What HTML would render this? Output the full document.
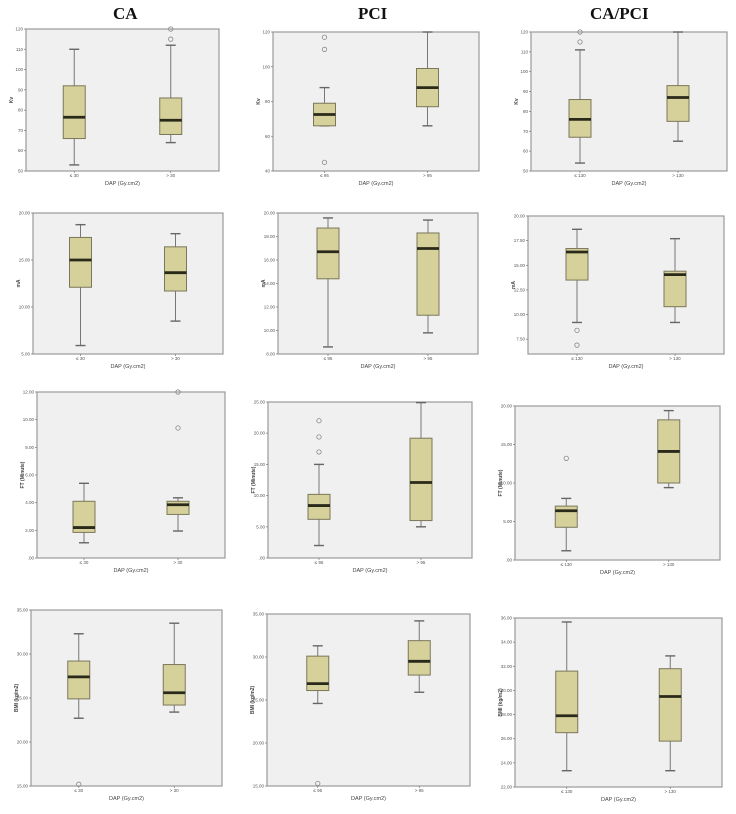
<!DOCTYPE html>
<html><head><meta charset="utf-8">
<style>
body{margin:0;background:#fff;width:736px;height:814px;overflow:hidden;font-family:"Liberation Sans",sans-serif}
.t{position:absolute;font-family:"Liberation Serif",serif;font-weight:bold;font-size:17px;color:#111}
</style></head><body>
<div class="t" style="left:113px;top:4px">CA</div>
<div class="t" style="left:358px;top:4px">PCI</div>
<div class="t" style="left:590px;top:4px">CA/PCI</div>
<svg id="c" width="736" height="814" style="position:absolute;left:0;top:0"></svg>
<script>
// data: per panel (row-major, 12 panels), per group (2) -> 24 entries
const whiskerLow = [53,64, 66,66, 54,65, 5.9,8.5, 8.6,9.8, 9.2,9.2, 1.1,1.95, 2,5, 1.2,9.4, 22.7,23.4, 24.6,25.9, 23.35,23.35];
const q1Values   = [66,68, 66,77, 67,75, 12.1,11.7, 14.4,11.3, 13.5,10.8, 1.85,3.15, 6.2,6.0, 4.25,10, 24.9,24.2, 26.1,27.9, 26.5,25.8];
const medianVals = [76.5,75, 72.5,88, 76,87, 15,13.65, 16.7,16.98, 16.35,14.05, 2.2,3.85, 8.4,12.1, 6.4,14.1, 27.4,25.6, 26.9,29.5, 27.9,29.5];
const q3Values   = [92,86, 79,99, 86,93, 17.4,16.4, 18.72,18.3, 16.7,14.4, 4.1,4.1, 10.2,19.2, 7.0,18.2, 29.2,28.8, 30.1,31.9, 31.6,31.8];
const whiskerHigh= [110,112, 88,120, 111,120, 18.76,17.8, 19.58,19.4, 18.65,17.7, 5.4,4.35, 15,24.9, 8.0,19.4, 32.3,33.5, 31.3,34.2, 35.67,32.86];
const outlierVals= [[],[115,120], [117,110,45],[], [115,120],[], [],[], [],[], [8.4,6.9],[], [],[9.4,12], [22,19.4,17],[], [13.2],[], [15.2],[], [15.3],[], [],[]];
const axisMin  = [50,40,50, 5,8,6, 0,0,0, 15,15,22];
const axisMax  = [120,120,120, 20,20,20, 12,25,20, 35,35,36];
const axisStep = [10,20,10, 5,2,2.5, 2,5,5, 5,5,2];
const yTitles  = ["Kv","Kv","Kv","mA","mA","mA","FT (Minute)","FT (Minute)","FT (Minute)","BMI (kg/m2)","BMI (kg/m2)","BMI (kg/m2)"];
const groupLabels = [["≤ 30","> 30"],["≤ 95","> 95"],["≤ 130","> 130"]];
// layout (pixel frames) per panel: x0,x1,y0,y1
const frames = [
 [26,219,29,171],[273,479,32,171],[531,727,32,171],
 [33,223,213,354],[278,478,213,354],[528,724,216,354],
 [37,225,392,558],[268,472,402,558],[515,720,406,560],
 [31,222,610,786],[267,470,614,786],[515,722,618,787]
];
const NS="http://www.w3.org/2000/svg";
const svg=document.getElementById('c');
function mk(tag,attrs,parent){const e=document.createElementNS(NS,tag);for(const k in attrs)e.setAttribute(k,attrs[k]);(parent||svg).appendChild(e);return e;}
function fmt(v,p){if(p<3)return String(Math.round(v));let s=v.toFixed(2);if(s.startsWith('0.'))s=s.slice(1);return s;}
for(let p=0;p<12;p++){
  const [x0,x1,y0,y1]=frames[p];
  const lo=axisMin[p],hi=axisMax[p];
  const yS=v=>y1-(v-lo)/(hi-lo)*(y1-y0);
  const g=mk('g',{});
  
  
  const bg=mk('rect',{x:x0,y:y0,width:x1-x0,height:y1-y0,fill:'#f0f0f0',stroke:'#9a9a9a','stroke-width':1.2},g);
  
  
  const st=axisStep[p];
  for(let v=Math.ceil(lo/st-1e-9)*st;v<=hi+1e-6;v+=st){
    const y=yS(v);
    mk('line',{x1:x0-2,x2:x0,y1:y,y2:y,stroke:'#777','stroke-width':0.7},g);
    const t=mk('text',{x:x0-3,y:y+1.5,'font-size':4.5,'text-anchor':'end',fill:'#555'},g);
    t.textContent=fmt(v,p);
    
    
  }
  const yt=mk('text',{x:0,y:0,'font-size':5,'font-weight':'bold','text-anchor':'middle',fill:'#444',transform:`translate(${x0-13},${(y0+y1)/2}) rotate(-90)`},g);
  yt.textContent=yTitles[p];
  
  
  const xt=mk('text',{x:(x0+x1)/2,y:y1+14,'font-size':5.5,'text-anchor':'middle',fill:'#444'},g);
  xt.textContent='DAP (Gy.cm2)';
  
  
  for(let k=0;k<2;k++){
    const i=p*2+k;
    const cx=x0+(x1-x0)*(k?0.75:0.25);
    const bw=11;
    mk('line',{x1:cx,x2:cx,y1:y1,y2:y1+2,stroke:'#777','stroke-width':0.7},g);
    const cl=mk('text',{x:cx,y:y1+6,'font-size':4.5,'text-anchor':'middle',fill:'#555'},g);
    cl.textContent=groupLabels[p%3][k];
    
    
    mk('line',{x1:cx,x2:cx,y1:yS(whiskerLow[i]),y2:yS(whiskerHigh[i]),stroke:'#777','stroke-width':1},g);
    mk('line',{x1:cx-5,x2:cx+5,y1:yS(whiskerLow[i]),y2:yS(whiskerLow[i]),stroke:'#666','stroke-width':1.4},g);
    mk('line',{x1:cx-5,x2:cx+5,y1:yS(whiskerHigh[i]),y2:yS(whiskerHigh[i]),stroke:'#666','stroke-width':1.4},g);
    const b=mk('rect',{x:cx-bw,y:yS(q3Values[i]),width:bw*2,height:yS(q1Values[i])-yS(q3Values[i]),fill:'#d6d09a',stroke:'#7b775a','stroke-width':1},g);
    
    
    mk('line',{x1:cx-bw,x2:cx+bw,y1:yS(medianVals[i]),y2:yS(medianVals[i]),stroke:'#2a2a1a','stroke-width':2.8},g);
    for(const o of outlierVals[i]){
      const c=mk('circle',{cx:cx,cy:yS(o),r:2.2,fill:'none',stroke:'#888','stroke-width':0.8},g);
      
      
    }
  }
}
</script>
</body></html>
